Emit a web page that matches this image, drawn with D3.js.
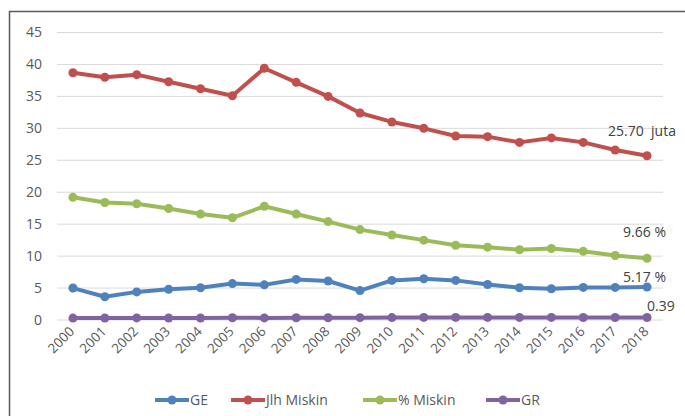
<!DOCTYPE html>
<html>
<head>
<meta charset="utf-8">
<script src="https://cdn.jsdelivr.net/npm/d3@7"></script>
<style>
  html, body { margin: 0; padding: 0; background: #fff; }
  svg { display: block; }
  text { font-family: "Open Sans", "Liberation Sans", sans-serif; }
</style>
</head>
<body>
<svg id="chart" width="685" height="416"></svg>
<script>
const years = ["2000","2001","2002","2003","2004","2005","2006","2007","2008","2009",
               "2010","2011","2012","2013","2014","2015","2016","2017","2018"];
const geValues = [5.0, 3.64, 4.4, 4.8, 5.05, 5.7, 5.5, 6.35, 6.1, 4.6,
                  6.2, 6.45, 6.2, 5.55, 5.05, 4.9, 5.1, 5.1, 5.17];
const jlhMiskinValues = [38.7, 38.0, 38.4, 37.3, 36.2, 35.1, 39.4, 37.2, 35.0, 32.4,
                         31.0, 30.0, 28.8, 28.7, 27.8, 28.5, 27.8, 26.6, 25.7];
const pctMiskinValues = [19.2, 18.4, 18.2, 17.45, 16.6, 16.0, 17.8, 16.6, 15.4, 14.15,
                         13.3, 12.5, 11.7, 11.4, 11.0, 11.2, 10.75, 10.1, 9.66];
const grValues = [0.30, 0.31, 0.33, 0.32, 0.32, 0.36, 0.33, 0.36, 0.35, 0.37,
                  0.38, 0.41, 0.41, 0.41, 0.41, 0.41, 0.40, 0.39, 0.39];
const yTicks = [0, 5, 10, 15, 20, 25, 30, 35, 40, 45];
const seriesNames = ["GE", "Jlh Miskin", "% Miskin", "GR"];
const seriesColors = ["#4F81BD", "#C0504D", "#9BBB59", "#8064A2"];
const endLabels = ["5.17 %", "25.70  juta", "9.66 %", "0.39"];

const series = [
  { name: seriesNames[0], values: geValues, color: seriesColors[0], label: endLabels[0] },
  { name: seriesNames[1], values: jlhMiskinValues, color: seriesColors[1], label: endLabels[1] },
  { name: seriesNames[2], values: pctMiskinValues, color: seriesColors[2], label: endLabels[2] },
  { name: seriesNames[3], values: grValues, color: seriesColors[3], label: endLabels[3] }
];

const svg = d3.select("#chart");

// outer frame
svg.append("rect")
  .attr("x", 9.5).attr("y", 11.5)
  .attr("width", 700).attr("height", 420)
  .attr("fill", "#fff")
  .attr("stroke", "#595959").attr("stroke-width", 1.5);

const x = d3.scaleBand().domain(years).range([57, 663]);
const y = d3.scaleLinear().domain([0, 45]).range([320, 32.5]);

// gridlines
svg.append("g").selectAll("line").data(yTicks).join("line")
  .attr("x1", 57).attr("x2", 663)
  .attr("y1", d => y(d)).attr("y2", d => y(d))
  .attr("stroke", "#d9d9d9").attr("stroke-width", 1);

// y axis labels
const yAxis = svg.append("g").attr("transform", "translate(57,0)")
  .call(d3.axisLeft(y).tickValues(yTicks).tickSize(0).tickPadding(15));
yAxis.select(".domain").remove();
yAxis.selectAll("text").attr("fill", "#595959").style("font-size", "14px");

// x axis labels
const xAxis = svg.append("g").attr("transform", "translate(0,320)")
  .call(d3.axisBottom(x).tickSize(0).tickPadding(0));
xAxis.select(".domain").remove();
xAxis.selectAll("text")
  .attr("fill", "#595959").style("font-size", "13.5px")
  .attr("text-anchor", "end")
  .attr("dy", "0.35em")
  .attr("transform", function(d){ return `translate(${x.bandwidth()/2 - 1},${9}) rotate(-45)`; })
  .attr("x", 0).attr("y", 0);
xAxis.selectAll(".tick").attr("transform", d => `translate(${x(d)},0)`);

const cx = (d, i) => x(years[i]) + x.bandwidth() / 2;
const line = d3.line().x((d, i) => cx(d, i)).y(d => y(d));

series.forEach(s => {
  const g = svg.append("g");
  g.append("path").datum(s.values)
    .attr("d", line)
    .attr("fill", "none")
    .attr("stroke", s.color)
    .attr("stroke-width", 4)
    .attr("stroke-linejoin", "round")
    .attr("stroke-linecap", "round");
  g.selectAll("circle").data(s.values).join("circle")
    .attr("cx", (d, i) => cx(d, i))
    .attr("cy", d => y(d))
    .attr("r", 4.5)
    .attr("fill", s.color);
});

// end labels
const last = years.length - 1;
const labelPos = [
  { dx: -24, dy: -5 },   // GE
  { dx: -39, dy: -20 },  // Jlh Miskin
  { dx: -24, dy: -21 },  // % Miskin
  { dx: 0, dy: -7 }      // GR
];
series.forEach((s, k) => {
  svg.append("text")
    .attr("x", cx(null, last) + labelPos[k].dx)
    .attr("y", y(s.values[last]) + labelPos[k].dy)
    .attr("fill", "#404040")
    .style("font-size", "14px")
    .style("white-space", "pre")
    .attr("xml:space", "preserve")
    .text(s.label);
});

// legend
const legendItems = [
  { x0: 155, name: seriesNames[0], color: seriesColors[0] },
  { x0: 231, name: seriesNames[1], color: seriesColors[1] },
  { x0: 363, name: seriesNames[2], color: seriesColors[2] },
  { x0: 486, name: seriesNames[3], color: seriesColors[3] }
];
const lg = svg.append("g");
legendItems.forEach(it => {
  lg.append("line")
    .attr("x1", it.x0).attr("x2", it.x0 + 34)
    .attr("y1", 400).attr("y2", 400)
    .attr("stroke", it.color).attr("stroke-width", 4);
  lg.append("circle").attr("cx", it.x0 + 17).attr("cy", 400).attr("r", 4.5).attr("fill", it.color);
  lg.append("text")
    .attr("x", it.x0 + 35).attr("y", 400).attr("dy", "0.35em")
    .attr("fill", "#595959").style("font-size", "14px")
    .text(it.name);
});
</script>
</body>
</html>
